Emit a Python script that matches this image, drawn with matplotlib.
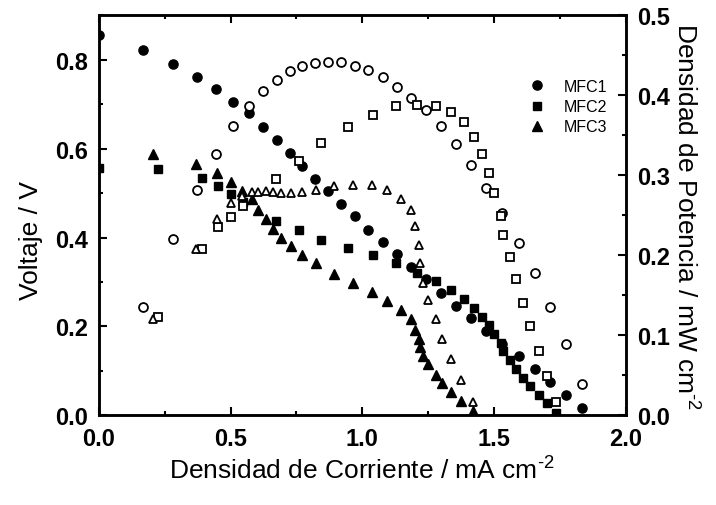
import matplotlib
matplotlib.use("Agg")
import matplotlib.pyplot as plt
from matplotlib.ticker import MultipleLocator, FormatStrFormatter

# MFC1
I1 = [0.0, 0.166, 0.28, 0.371, 0.444, 0.51, 0.57, 0.624, 0.677, 0.725, 0.773, 0.821, 0.870, 0.921, 0.972,
      1.022, 1.077, 1.13, 1.184, 1.243, 1.297, 1.354, 1.412, 1.471, 1.53, 1.594, 1.655, 1.712, 1.772, 1.832]
V1 = [0.855, 0.821, 0.791, 0.762, 0.733, 0.704, 0.679, 0.649, 0.619, 0.589, 0.560, 0.532, 0.504, 0.476, 0.448,
      0.416, 0.389, 0.362, 0.334, 0.306, 0.276, 0.247, 0.220, 0.189, 0.160, 0.133, 0.105, 0.075, 0.047, 0.017]
P1 = [0.136, 0.22, 0.282, 0.326, 0.361, 0.386, 0.405, 0.419, 0.430, 0.437, 0.440, 0.442, 0.441, 0.437,
      0.431, 0.423, 0.410, 0.397, 0.382, 0.362, 0.339, 0.3125, 0.284, 0.2525, 0.215, 0.1775, 0.135, 0.089, 0.039]

# MFC2
I2 = [0.0, 0.223, 0.39, 0.453, 0.5, 0.548, 0.674, 0.759, 0.845, 0.946, 1.039, 1.127, 1.206, 1.279, 1.338,
      1.385, 1.424, 1.456, 1.481, 1.499, 1.526, 1.534, 1.562, 1.583, 1.61, 1.636, 1.671, 1.701, 1.737]
V2 = [0.557, 0.555, 0.534, 0.516, 0.498, 0.48, 0.437, 0.416, 0.395, 0.377, 0.36, 0.342, 0.321, 0.302, 0.283,
      0.262, 0.242, 0.222, 0.204, 0.182, 0.163, 0.144, 0.124, 0.105, 0.085, 0.066, 0.047, 0.028, 0.006]
P2 = [0.123, 0.2075, 0.235, 0.248, 0.262, 0.295, 0.318, 0.340, 0.360, 0.375, 0.386, 0.3875, 0.387, 0.379,
      0.367, 0.348, 0.327, 0.303, 0.278, 0.249, 0.225, 0.198, 0.17, 0.141, 0.112, 0.081, 0.049, 0.017]

# MFC3
I3 = [0.204, 0.368, 0.447, 0.503, 0.544, 0.58, 0.605, 0.636, 0.662, 0.693, 0.729, 0.773, 0.826, 0.892, 0.963,
      1.035, 1.092, 1.146, 1.183, 1.199, 1.214, 1.218, 1.231, 1.25, 1.278, 1.304, 1.338, 1.376, 1.42]
V3 = [0.587, 0.566, 0.545, 0.524, 0.504, 0.487, 0.463, 0.442, 0.42, 0.399, 0.380, 0.360, 0.342, 0.319, 0.298,
      0.277, 0.257, 0.236, 0.216, 0.193, 0.173, 0.154, 0.133, 0.115, 0.092, 0.073, 0.052, 0.032, 0.0097]
P3 = [0.121, 0.2075, 0.246, 0.265, 0.274, 0.279, 0.279, 0.28, 0.279, 0.2775, 0.278, 0.279, 0.282, 0.286,
      0.2875, 0.288, 0.282, 0.271, 0.257, 0.237, 0.2125, 0.19, 0.165, 0.144, 0.12, 0.095, 0.07, 0.044, 0.0167]

fuente = ['Liberation Sans', 'DejaVu Sans']
fuente_num = ['Liberation Sans Narrow', 'Liberation Sans', 'DejaVu Sans']
plt.rcParams['font.family'] = fuente
plt.rcParams['mathtext.fontset'] = 'custom'
plt.rcParams['mathtext.rm'] = 'Liberation Sans'

fig = plt.figure(figsize=(7.16, 5.06), dpi=100)
ax = fig.add_axes([0.138, 0.177, 0.736, 0.791])
ax2 = ax.twinx()

#curvas de voltaje (rellenos)
h1, = ax.plot(I1, V1, 'o', color='black', ms=6.6, ls='none', label='MFC1')
h2, = ax.plot(I2, V2, 's', color='black', ms=5.6, ls='none', label='MFC2')
h3, = ax.plot(I3, V3, '^', color='black', ms=6.6, ls='none', label='MFC3')

#curvas de potencia (abiertos)
ax2.plot(I1[1:], P1, 'o', mfc='white', mec='black', mew=1.3, ms=6.4, ls='none')
ax2.plot(I2[1:], P2, 's', mfc='white', mec='black', mew=1.3, ms=5.4, ls='none')
ax2.plot(I3, P3, '^', mfc='white', mec='black', mew=1.3, ms=6.4, ls='none')

ax.set_xlim(0, 2.0)
ax.set_ylim(0, 0.9)
ax2.set_ylim(0, 0.5)

ax.xaxis.set_major_locator(MultipleLocator(0.5))
ax.xaxis.set_minor_locator(MultipleLocator(0.25))
ax.yaxis.set_major_locator(MultipleLocator(0.2))
ax.yaxis.set_minor_locator(MultipleLocator(0.1))
ax2.yaxis.set_major_locator(MultipleLocator(0.1))
ax2.yaxis.set_minor_locator(MultipleLocator(0.05))

ax.tick_params(which='both', direction='in', top=True, right=False, width=1.5)
ax.tick_params(which='major', length=6, pad=8)
ax.tick_params(which='minor', length=3)
ax2.tick_params(which='both', direction='in', width=1.5)
ax2.tick_params(which='major', length=6, pad=8)
ax2.tick_params(which='minor', length=3)

ax.xaxis.set_major_formatter(FormatStrFormatter('%.1f'))
ax.yaxis.set_major_formatter(FormatStrFormatter('%.1f'))
ax2.yaxis.set_major_formatter(FormatStrFormatter('%.1f'))

for a in (ax, ax2):
    for s in a.spines.values():
        s.set_linewidth(1.8)
    for lab in a.get_xticklabels() + a.get_yticklabels():
        lab.set_family(fuente_num)
        lab.set_fontsize(17)
        lab.set_fontweight('bold')

ax.set_xlabel('Densidad de Corriente / mA cm$^{\\text{-2}}$', fontsize=19, labelpad=4)
ax.set_ylabel('Voltaje / V', fontsize=19)
ax.yaxis.set_label_coords(-0.105, 0.44)
ax2.set_ylabel('Densidad de Potencia / mW cm$^{\\text{-2}}$', fontsize=19, rotation=270, labelpad=22)

ax2.legend(handles=[h1, h2, h3], loc='upper left', bbox_to_anchor=(0.727, 0.858),
           bbox_transform=fig.transFigure, frameon=False, fontsize=11.5,
           handlelength=1.0, handletextpad=1.2, labelspacing=0.33, borderpad=0)

fig.savefig('out.png', dpi=100)
